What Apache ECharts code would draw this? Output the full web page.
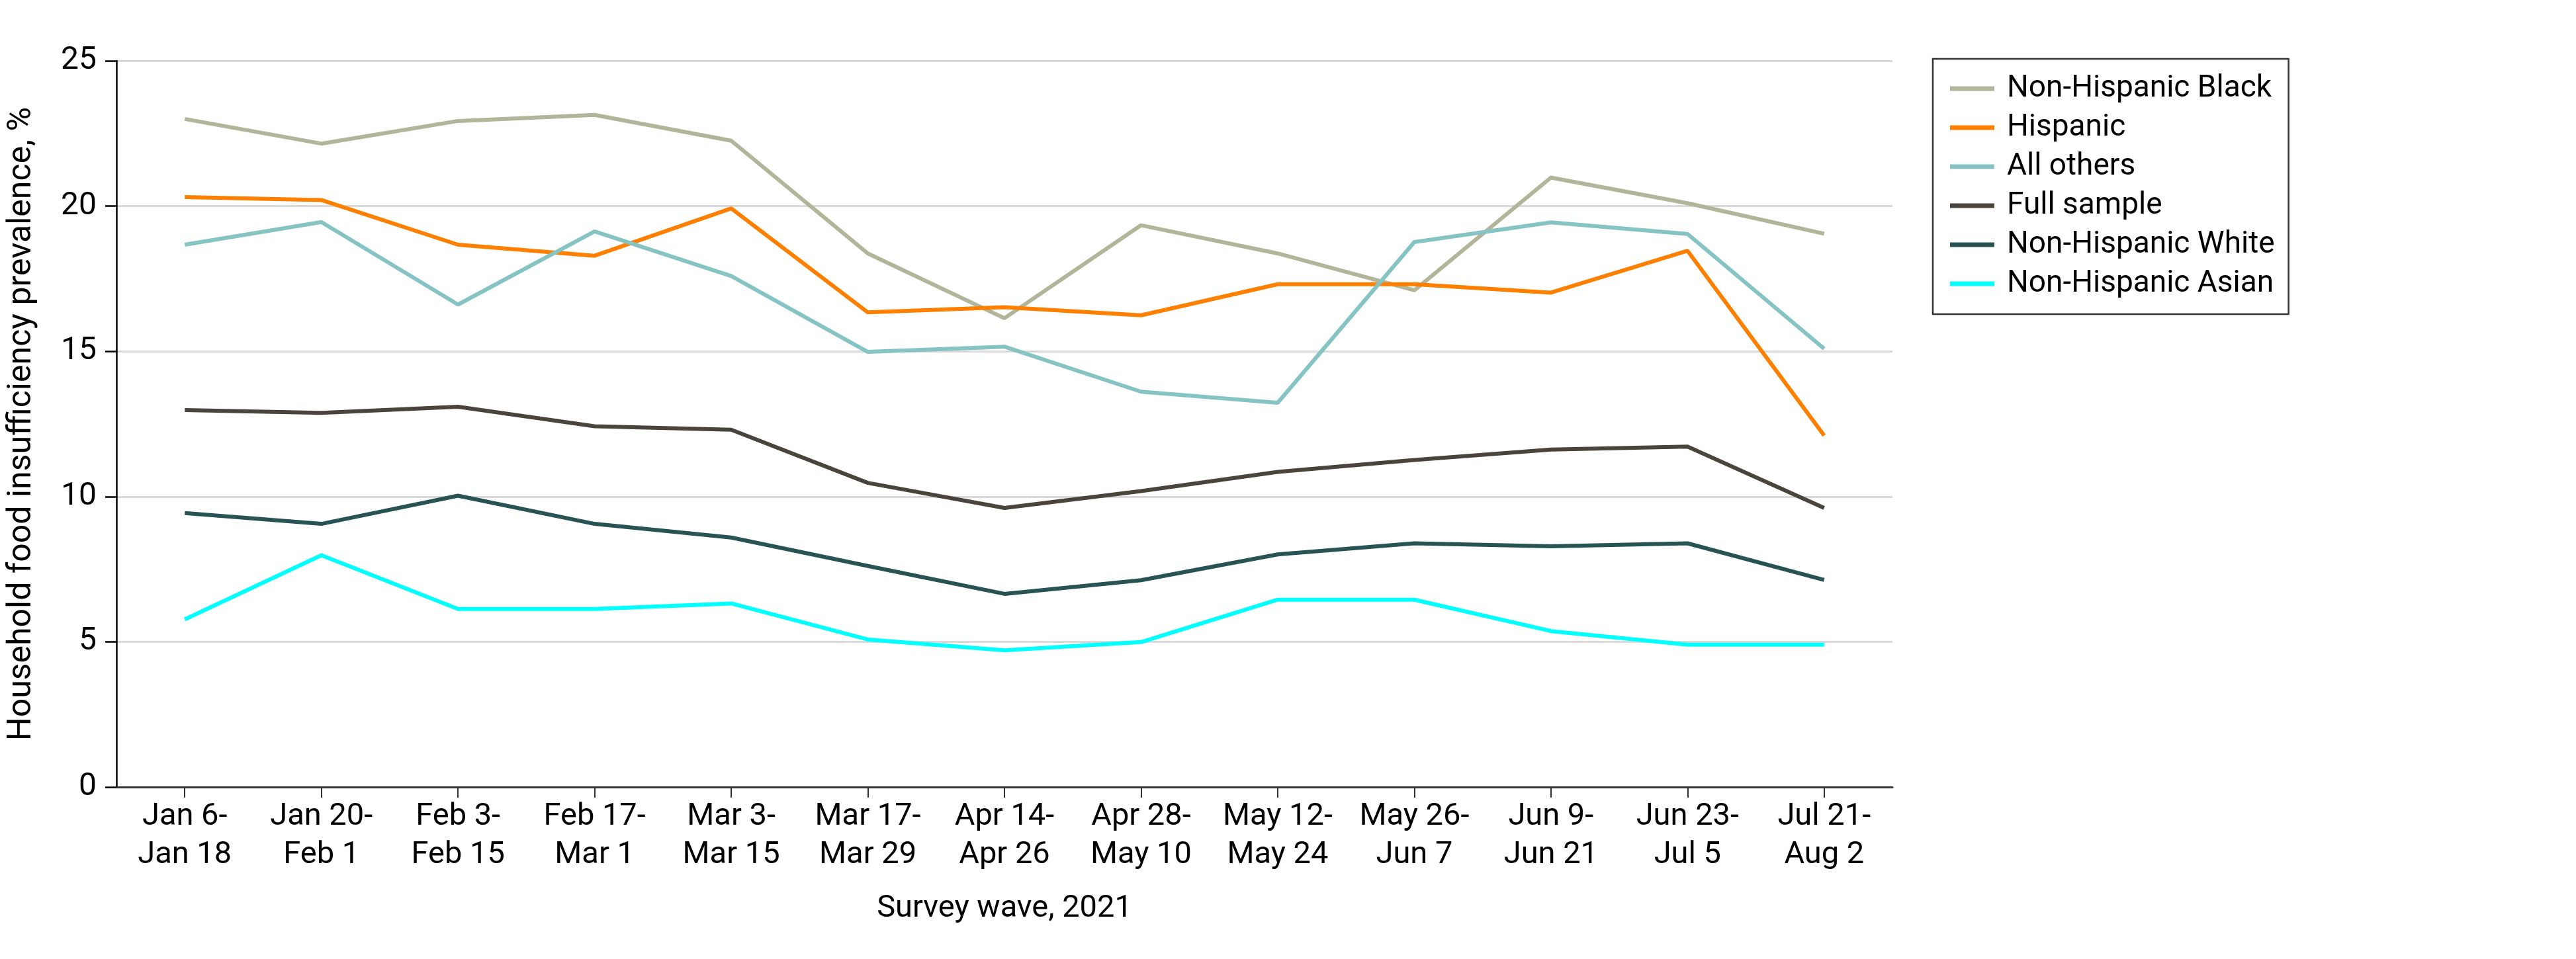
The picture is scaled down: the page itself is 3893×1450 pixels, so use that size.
<!DOCTYPE html>
<html>
<head>
<meta charset="utf-8">
<script src="https://cdn.jsdelivr.net/npm/echarts@6/dist/echarts.min.js"></script>
<style>
  html, body { margin: 0; padding: 0; background: #fff; }
  #chart { width: 3893px; height: 1450px; }
</style>
</head>
<body>
<div id="chart"></div>
<script>
const categories = [
  'Jan 6-\nJan 18', 'Jan 20-\nFeb 1', 'Feb 3-\nFeb 15', 'Feb 17-\nMar 1', 'Mar 3-\nMar 15',
  'Mar 17-\nMar 29', 'Apr 14-\nApr 26', 'Apr 28-\nMay 10', 'May 12-\nMay 24', 'May 26-\nJun 7',
  'Jun 9-\nJun 21', 'Jun 23-\nJul 5', 'Jul 21-\nAug 2'
];
const nonHispanicBlack = [23.0, 22.15, 22.93, 23.14, 22.25, 18.37, 16.14, 19.34, 18.37, 17.10, 20.98, 20.10, 19.05];
const hispanic = [20.31, 20.21, 18.67, 18.29, 19.92, 16.34, 16.52, 16.24, 17.31, 17.31, 17.02, 18.46, 12.10];
const allOthers = [18.67, 19.45, 16.61, 19.13, 17.59, 14.98, 15.16, 13.61, 13.23, 18.76, 19.44, 19.04, 15.09];
const fullSample = [12.98, 12.88, 13.09, 12.42, 12.30, 10.47, 9.61, 10.19, 10.85, 11.26, 11.62, 11.72, 9.61];
const nonHispanicWhite = [9.43, 9.06, 10.03, 9.06, 8.59, 7.61, 6.65, 7.12, 8.01, 8.39, 8.29, 8.39, 7.13];
const nonHispanicAsian = [5.77, 7.98, 6.13, 6.13, 6.32, 5.08, 4.71, 4.99, 6.45, 6.45, 5.37, 4.90, 4.90];
const yTicks = [0, 5, 10, 15, 20, 25];

const seriesDefs = [
  { name: 'Non-Hispanic Black', data: nonHispanicBlack, color: '#b3b59a' },
  { name: 'Hispanic', data: hispanic, color: '#ff8000' },
  { name: 'All others', data: allOthers, color: '#85c4c2' },
  { name: 'Full sample', data: fullSample, color: '#4a453c' },
  { name: 'Non-Hispanic White', data: nonHispanicWhite, color: '#275353' },
  { name: 'Non-Hispanic Asian', data: nonHispanicAsian, color: '#00ffff' }
];

const FONT = 'Roboto';
const chart = echarts.init(document.getElementById('chart'), null, { renderer: 'canvas' });
chart.setOption({
  animation: false,
  backgroundColor: '#ffffff',
  textStyle: { fontFamily: FONT, color: '#000' },
  grid: { left: 167, right: 1033, top: 92, bottom: 260, containLabel: false },
  legend: {
    orient: 'vertical',
    left: 2921,
    top: 89,
    icon: 'rect',
    itemWidth: 67,
    itemHeight: 7,
    itemGap: 9,
    padding: [20, 21, 21, 26],
    borderColor: '#333',
    borderWidth: 2.5,
    textStyle: { fontFamily: FONT, fontSize: 46, lineHeight: 50, color: '#000', padding: [0, 0, 0, 14] },
    data: seriesDefs.map(s => s.name)
  },
  xAxis: {
    type: 'category',
    data: categories,
    boundaryGap: true,
    name: 'Survey wave, 2021',
    nameLocation: 'middle',
    nameGap: 161,
    nameTextStyle: { fontFamily: FONT, fontSize: 47, lineHeight: 47, color: '#000' },
    axisLine: { show: true, lineStyle: { color: '#333', width: 3 } },
    axisTick: { show: true, alignWithLabel: true, length: 16, lineStyle: { color: '#333', width: 2 } },
    axisLabel: { fontFamily: FONT, fontSize: 47, lineHeight: 58, color: '#000', margin: 16, interval: 0 },
    splitLine: { show: false }
  },
  yAxis: {
    type: 'value',
    min: yTicks[0],
    max: yTicks[yTicks.length - 1],
    interval: 5,
    name: 'Household food insufficiency prevalence, %',
    nameLocation: 'middle',
    nameGap: 118,
    nameTextStyle: { fontFamily: FONT, fontSize: 50, color: '#000' },
    axisLine: { show: true, lineStyle: { color: '#000', width: 2.5 } },
    axisTick: { show: true, length: 17, lineStyle: { color: '#000', width: 2.5 } },
    axisLabel: { fontFamily: FONT, fontSize: 48, color: '#000', margin: 30 },
    splitLine: { show: true, lineStyle: { color: '#d9d9d9', width: 3 } }
  },
  series: seriesDefs.map(s => ({
    name: s.name,
    type: 'line',
    data: s.data,
    symbol: 'none',
    smooth: false,
    color: s.color,
    lineStyle: { color: s.color, width: 6 },
    emphasis: { disabled: true }
  }))
});
</script>
</body>
</html>
